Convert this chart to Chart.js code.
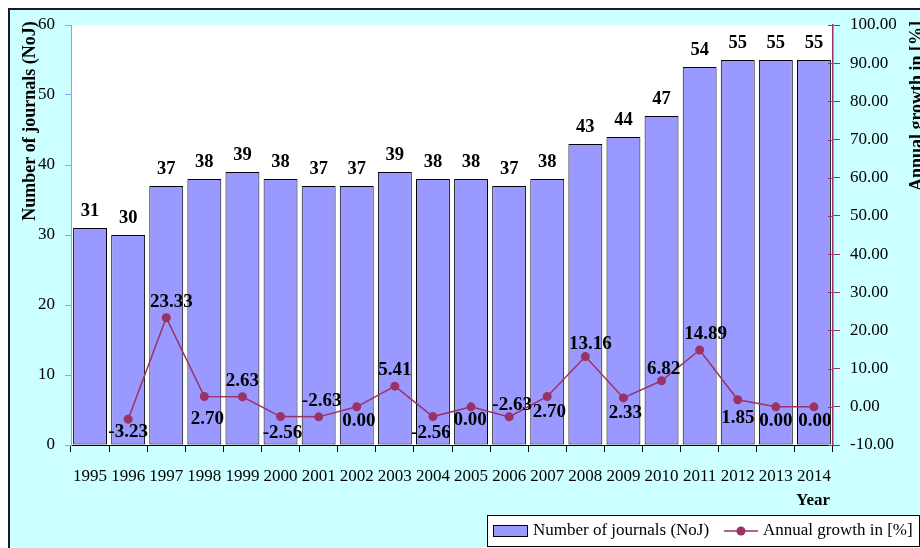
<!DOCTYPE html>
<html>
<head>
<meta charset="utf-8">
<title>Number of journals and annual growth</title>
<script src="https://cdn.jsdelivr.net/npm/chart.js@4.4.1/dist/chart.umd.min.js"></script>
<style>
  html, body { margin: 0; padding: 0; background: #fff; overflow: hidden; }
  #frame {
    position: absolute; left: 8px; top: 8px;
    width: 930px; height: 560px;
    border: 2px solid #1a1a1a;
    background: #ccffff;
  }
</style>
</head>
<body>
<div id="frame"><canvas id="chart"></canvas></div>
<script>
  var years = ["1995", "1996", "1997", "1998", "1999", "2000", "2001", "2002", "2003", "2004",
               "2005", "2006", "2007", "2008", "2009", "2010", "2011", "2012", "2013", "2014"];
  var journals = [31, 30, 37, 38, 39, 38, 37, 37, 39, 38, 38, 37, 38, 43, 44, 47, 54, 55, 55, 55];
  var growth = [null, -3.23, 23.33, 2.70, 2.63, -2.56, -2.63, 0.00, 5.41, -2.56,
                0.00, -2.63, 2.70, 13.16, 2.33, 6.82, 14.89, 1.85, 0.00, 0.00];

  // where each growth label sits relative to its point (style only)
  var growthLabelDx = [0, 0, 5, 3, 0, 2, 3, 2, 0, -2, -1, 3, 2, 5, 2, 2, 6, 0, 0, 1];
  var growthLabelDy = [0, 13, -16, 23, -16, 17, -16, 14, -16, 17, 13, -12, 16, -12, 15, -12, -16, 18, 14, 14];

  var FONT = "'Liberation Serif', 'Times New Roman', serif";
  var BAR_FILL = "#9999ff";
  var LINE_COLOR = "#993366";

  // fixed box sizes so the plot area lands where the original has it
  function fixWidth(w) {
    return function(scale) {
      scale.width = w;
      scale.paddingTop = 0;
      scale.paddingBottom = 0;
    };
  }

  var decorPlugin = {
    id: "decor",
    beforeDraw: function(chart) {
      var ctx = chart.ctx, a = chart.chartArea;
      ctx.save();
      ctx.fillStyle = "#ccffff";
      ctx.fillRect(0, 0, chart.width, chart.height);
      ctx.fillStyle = "#ffffff";
      ctx.fillRect(a.left, a.top, a.right - a.left, a.bottom - a.top);
      ctx.restore();
    },
    afterDatasetsDraw: function(chart) {
      var ctx = chart.ctx;
      ctx.save();
      ctx.fillStyle = "#000";
      ctx.textAlign = "center";
      ctx.textBaseline = "middle";

      // bar values
      ctx.font = "bold 18.5px " + FONT;
      chart.getDatasetMeta(1).data.forEach(function(bar, i) {
        ctx.fillText(String(journals[i]), bar.x, bar.y - 17);
      });

      // growth values
      ctx.font = "bold 19px " + FONT;
      chart.getDatasetMeta(0).data.forEach(function(pt, i) {
        if (growth[i] === null) return;
        ctx.fillText(growth[i].toFixed(2), pt.x + growthLabelDx[i], pt.y + growthLabelDy[i]);
      });
      ctx.restore();
    },
    afterDraw: function(chart) {
      var ctx = chart.ctx, a = chart.chartArea;
      var yR = chart.scales.yRight;
      ctx.save();

      // inner part of the right axis ticks
      ctx.strokeStyle = LINE_COLOR;
      ctx.lineWidth = 1;
      yR.ticks.forEach(function(t) {
        var y = Math.round(yR.getPixelForValue(t.value)) + 0.5;
        ctx.beginPath();
        ctx.moveTo(a.right - 5, y);
        ctx.lineTo(a.right, y);
        ctx.stroke();
      });

      // axis titles
      ctx.fillStyle = "#000";
      ctx.textAlign = "center";
      ctx.textBaseline = "middle";
      ctx.font = "bold 18px " + FONT;
      ctx.save();
      ctx.translate(20, 111);
      ctx.rotate(-Math.PI / 2);
      ctx.fillText("Number of journals (NoJ)", 0, 0);
      ctx.restore();
      ctx.save();
      ctx.translate(907, 96);
      ctx.rotate(-Math.PI / 2);
      ctx.fillText("Annual growth in [%]", 0, 0);
      ctx.restore();
      ctx.font = "bold 17px " + FONT;
      ctx.fillText("Year", 803, 491);

      // legend
      var lx = 477, ly = 505, lw = 432, lh = 31;
      ctx.fillStyle = "#fff";
      ctx.fillRect(lx, ly, lw, lh);
      ctx.strokeStyle = "#000";
      ctx.lineWidth = 1;
      ctx.strokeRect(lx + 0.5, ly + 0.5, lw, lh);
      ctx.fillStyle = BAR_FILL;
      ctx.fillRect(483.5, 515.5, 34, 11);
      ctx.strokeRect(483.5, 515.5, 34, 11);
      ctx.fillStyle = "#000";
      ctx.textAlign = "left";
      ctx.font = "17px " + FONT;
      ctx.fillText("Number of journals (NoJ)", 523, 521);
      ctx.strokeStyle = LINE_COLOR;
      ctx.lineWidth = 1.5;
      ctx.beginPath();
      ctx.moveTo(714, 521);
      ctx.lineTo(748, 521);
      ctx.stroke();
      ctx.fillStyle = LINE_COLOR;
      ctx.beginPath();
      ctx.arc(731, 521, 4.5, 0, Math.PI * 2);
      ctx.fill();
      ctx.fillStyle = "#000";
      ctx.fillText("Annual growth in [%]", 753, 521);
      ctx.restore();
    }
  };

  var chart = new Chart(document.getElementById("chart"), {
    type: "bar",
    data: {
      labels: years,
      datasets: [
        {
          type: "line",
          label: "Annual growth in [%]",
          data: growth,
          yAxisID: "yRight",
          borderColor: LINE_COLOR,
          backgroundColor: LINE_COLOR,
          borderWidth: 1.5,
          pointRadius: 4.5,
          pointBackgroundColor: LINE_COLOR,
          pointBorderWidth: 0,
          tension: 0,
          spanGaps: false,
          order: 1
        },
        {
          type: "bar",
          label: "Number of journals (NoJ)",
          data: journals,
          yAxisID: "yLeft",
          backgroundColor: BAR_FILL,
          borderColor: "#000",
          borderWidth: 1,
          borderSkipped: false,
          barPercentage: 0.89,
          categoryPercentage: 1,
          order: 2
        }
      ]
    },
    options: {
      responsive: true,
      maintainAspectRatio: false,
      animation: false,
      layout: { padding: { top: 15, left: 0, right: 0, bottom: 0 } },
      plugins: {
        legend: { display: false },
        tooltip: { enabled: false }
      },
      scales: {
        x: {
          grid: { offset: true, drawOnChartArea: false, color: "#000", tickLength: 7 },
          border: { color: "#000", width: 1 },
          ticks: { color: "#000", font: { family: FONT, size: 17 }, padding: 14, maxRotation: 0, autoSkip: false },
          afterFit: function(scale) {
            scale.height = 125;
            scale.paddingLeft = 0;
            scale.paddingRight = 0;
          }
        },
        yLeft: {
          position: "left",
          min: 0,
          max: 60,
          grid: { drawOnChartArea: false, color: BAR_FILL, tickLength: 6 },
          border: { color: BAR_FILL, width: 1 },
          ticks: { stepSize: 10, color: "#000", font: { family: FONT, size: 17 }, padding: 10 },
          afterFit: fixWidth(61)
        },
        yRight: {
          position: "right",
          min: -10,
          max: 100,
          grid: { drawOnChartArea: false, color: LINE_COLOR, tickLength: 7 },
          border: { color: LINE_COLOR, width: 1.5 },
          ticks: {
            stepSize: 10,
            color: "#000",
            font: { family: FONT, size: 17 },
            padding: 10,
            callback: function(v) { return Number(v).toFixed(2); }
          },
          afterFit: fixWidth(107)
        }
      }
    },
    plugins: [decorPlugin]
  });
</script>
</body>
</html>
